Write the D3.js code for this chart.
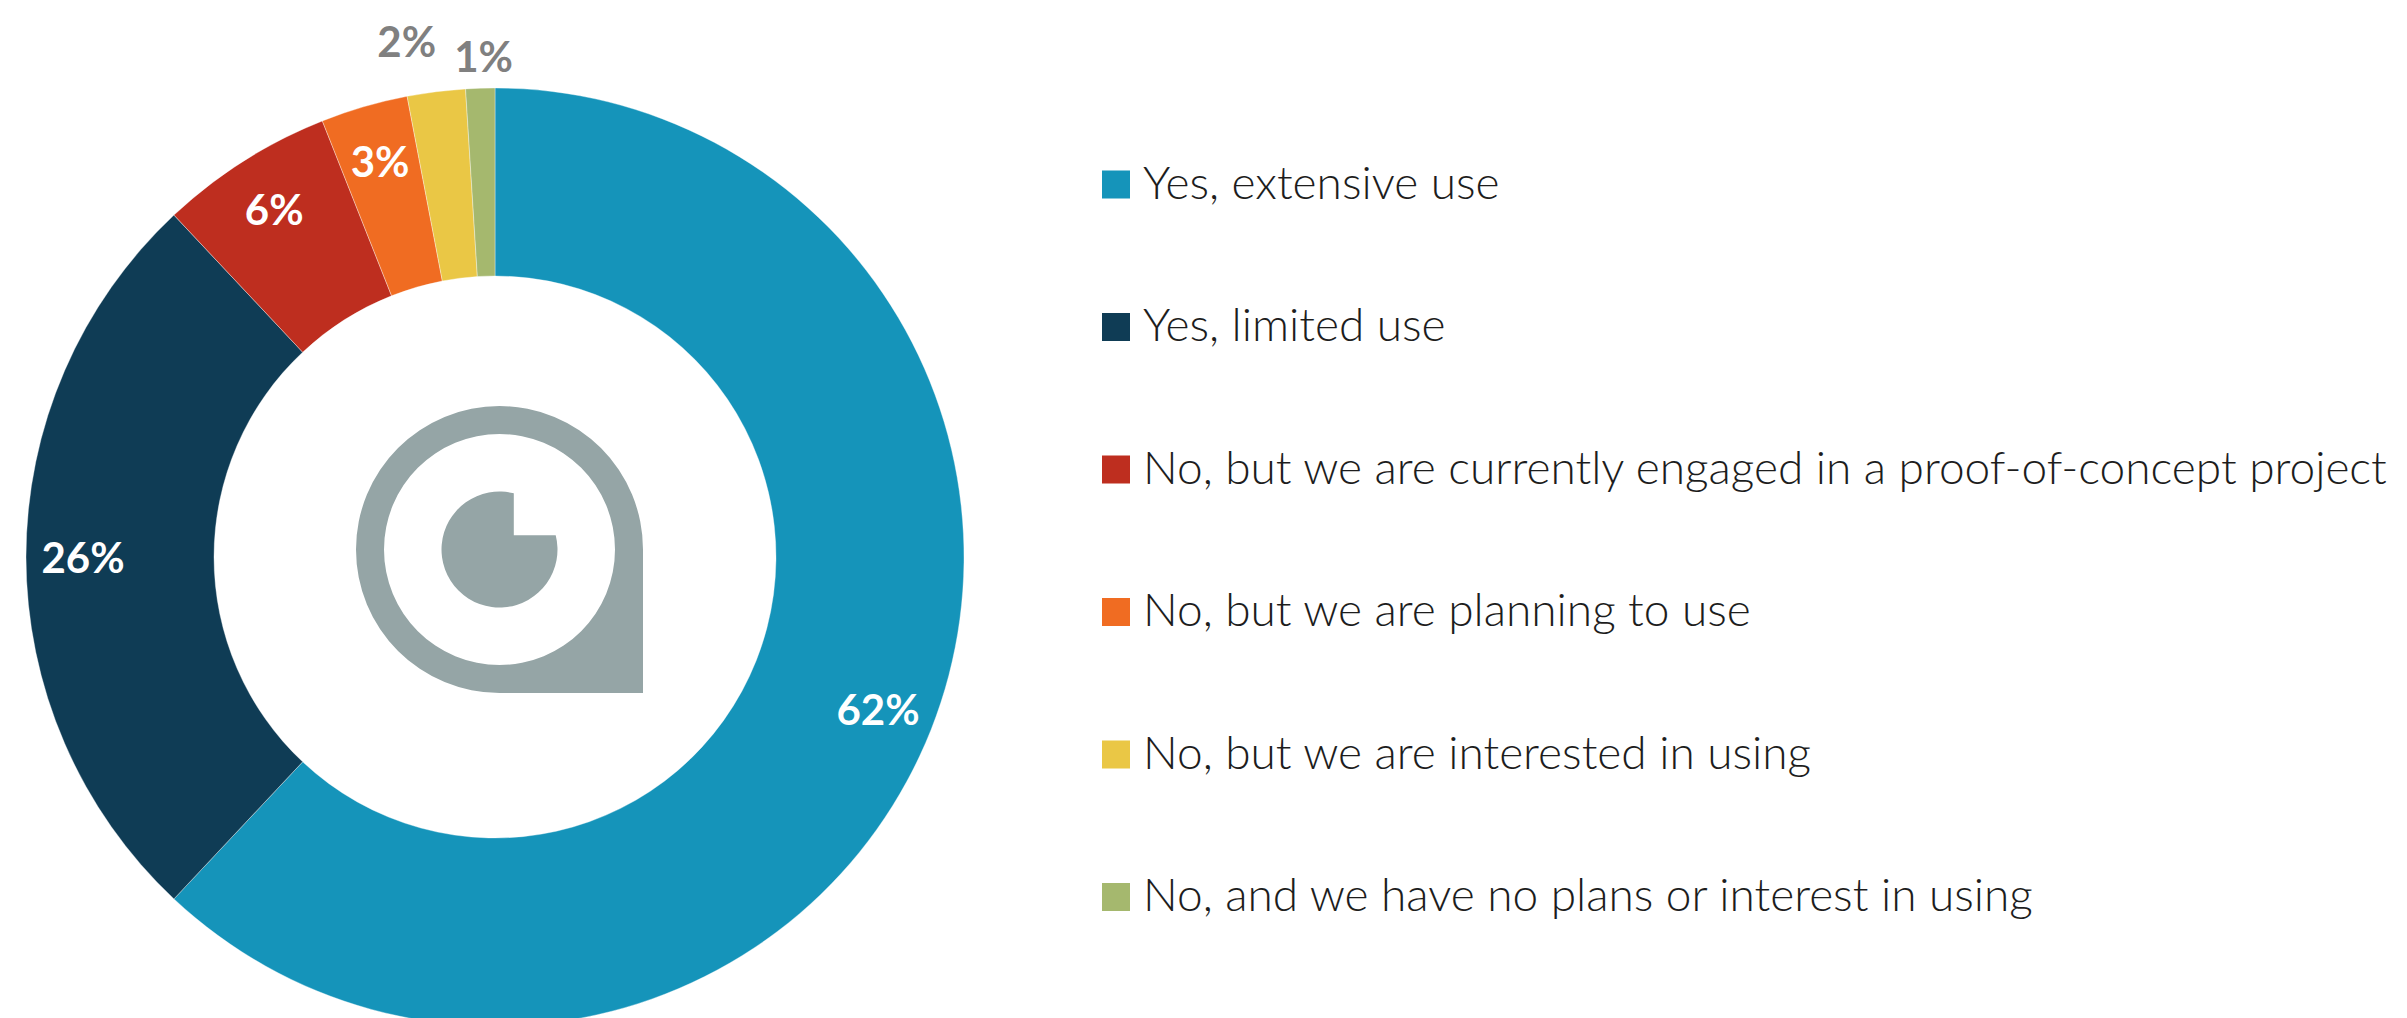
<!DOCTYPE html>
<html>
<head>
<meta charset="utf-8">
<script src="https://cdn.jsdelivr.net/npm/d3@7"></script>
<style>
  html, body { margin: 0; padding: 0; background: #ffffff; }
  svg { display: block; }
</style>
</head>
<body>
<svg id="chart" width="2407" height="1018"></svg>
<script>
// Survey answers, shares in percent, clockwise from 12 o'clock
const categories = [
  "Yes, extensive use",
  "Yes, limited use",
  "No, but we are currently engaged in a proof-of-concept project",
  "No, but we are planning to use",
  "No, but we are interested in using",
  "No, and we have no plans or interest in using"
];
const shares = [62, 26, 6, 3, 2, 1];
const valueLabels = ["62%", "26%", "6%", "3%", "2%", "1%"];
const sliceColors = ["#1594ba", "#0f3c55", "#be2e1f", "#f06c22", "#eac745", "#a5b86e"];

const data = categories.map((c, i) => ({ category: c, value: shares[i], label: valueLabels[i], color: sliceColors[i] }));

const cx = 495, cy = 557;
const rOuter = 469, rInner = 281, rLabel = 412;

const svg = d3.select("#chart");

const pie = d3.pie().sort(null).value(d => d.value).startAngle(0).endAngle(2 * Math.PI);
const arcs = pie(data);
const arc = d3.arc().innerRadius(rInner).outerRadius(rOuter);
const labelArc = d3.arc().innerRadius(rLabel).outerRadius(rLabel);

const donut = svg.append("g").attr("transform", `translate(${cx},${cy})`);

donut.selectAll("path.slice")
  .data(arcs)
  .join("path")
  .attr("class", "slice")
  .attr("d", arc)
  .attr("fill", d => d.data.color)
  .attr("stroke", "#ffffff")
  .attr("stroke-width", 0.6)
  .attr("stroke-opacity", 0.6);

// Small slices get their label outside the ring, staggered so they don't collide
const outsideNudge = [
  { dr: 55, da: -2.5 },
  { dr: 32, da: 0.5 }
];
const isOutside = d => d.data.value < 3;
let outsideIdx = 0;
const labelPos = arcs.map(d => {
  if (!isOutside(d)) return labelArc.centroid(d);
  const n = outsideNudge[outsideIdx++] || { dr: 40, da: 0 };
  const a = (d.startAngle + d.endAngle) / 2 + n.da * Math.PI / 180;
  const r = rOuter + n.dr;
  return [r * Math.sin(a), -r * Math.cos(a)];
});

donut.selectAll("text.value")
  .data(arcs)
  .join("text")
  .attr("class", "value")
  .attr("x", (d, i) => labelPos[i][0])
  .attr("y", (d, i) => labelPos[i][1])
  .attr("text-anchor", "middle")
  .attr("dominant-baseline", "central")
  .attr("font-family", "Lato, 'Open Sans', sans-serif")
  .attr("font-weight", 700)
  .attr("font-size", 42)
  .attr("fill", d => isOutside(d) ? "#808080" : "#ffffff")
  .text(d => d.data.label);

// Brand mark in the hole of the donut
const logo = svg.append("g").attr("transform", "translate(499.5,549.5)");
const R = 143.5, rHole = 115.5, rDot = 58, notch = 14.3;
const outline = d3.path();
outline.moveTo(R, 0);
outline.lineTo(R, R);
outline.lineTo(0, R);
outline.arc(0, 0, R, Math.PI / 2, 2 * Math.PI, false);
outline.closePath();
outline.moveTo(rHole, 0);
outline.arc(0, 0, rHole, 0, 2 * Math.PI, false);
outline.closePath();
logo.append("path")
  .attr("d", outline.toString())
  .attr("fill", "#95a5a6")
  .attr("fill-rule", "evenodd");

const yTop = -Math.sqrt(rDot * rDot - notch * notch);
const xRight = Math.sqrt(rDot * rDot - notch * notch);
const dot = d3.path();
dot.moveTo(notch, yTop);
dot.lineTo(notch, -notch);
dot.lineTo(xRight, -notch);
dot.arc(0, 0, rDot, Math.atan2(-notch, xRight), Math.atan2(yTop, notch) + 2 * Math.PI, false);
dot.closePath();
logo.append("path").attr("d", dot.toString()).attr("fill", "#95a5a6");

// Legend
const legendX = 1102, legendTop = 198.5, legendStep = 142.5, swatch = 28;
const legendY = d3.scaleLinear().domain([0, 1]).range([legendTop, legendTop + legendStep]);

const legend = svg.append("g");
const rows = legend.selectAll("g.row")
  .data(data)
  .join("g")
  .attr("class", "row")
  .attr("transform", (d, i) => `translate(${legendX},${legendY(i)})`);

rows.append("rect")
  .attr("x", 0)
  .attr("y", -swatch)
  .attr("width", swatch)
  .attr("height", swatch)
  .attr("fill", d => d.color);

rows.append("text")
  .attr("x", 41)
  .attr("y", 0)
  .attr("font-family", "Lato, 'Open Sans', sans-serif")
  .attr("font-weight", 300)
  .attr("font-size", 46)
  .attr("fill", "#1d1d1d")
  .text(d => d.category);
</script>
</body>
</html>
